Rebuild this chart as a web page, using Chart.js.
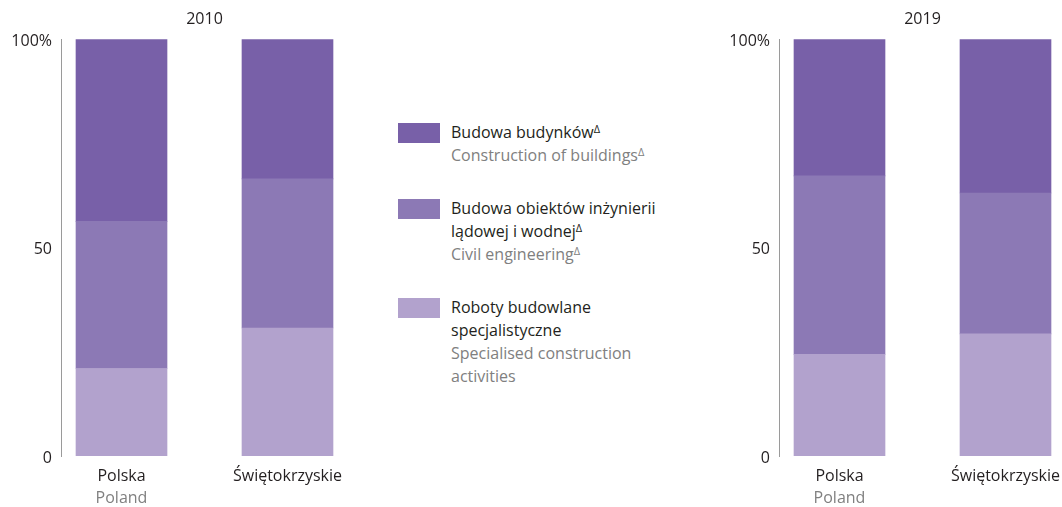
<!DOCTYPE html>
<html>
<head>
<meta charset="utf-8">
<script src="https://cdn.jsdelivr.net/npm/chart.js@4"></script>
<style>
  html, body { margin: 0; padding: 0; background: #fff; overflow: hidden; }
  body { width: 1062px; height: 507px; position: relative; font-family: "Open Sans", sans-serif; }
  .panel { position: absolute; top: 0; width: 360px; height: 507px; }
  .legend { position: absolute; left: 398px; top: 0; }
  .item { position: absolute; left: 0; width: 320px; }
  .swatch { position: absolute; left: 0; top: 0; width: 42px; height: 20px; }
  .txt { position: absolute; left: 53px; top: -2px; font-size: 16px; line-height: 23px; color: #231f20; white-space: nowrap; }
  .txt .en { color: #808080; }
  sup { font-size: 11px; vertical-align: 5px; line-height: 0; }
</style>
</head>
<body>
<div class="panel" style="left:0"><canvas id="c2010"></canvas></div>
<div class="panel" style="left:718px"><canvas id="c2019"></canvas></div>
<div class="legend" id="legend"></div>
<script>
const categories = ['Polska', 'Świętokrzyskie'];
const categoriesEn = ['Poland', ''];
const seriesPl = ['Budowa budynków', 'Budowa obiektów inżynierii lądowej i wodnej', 'Roboty budowlane specjalistyczne'];
const seriesEn = ['Construction of buildings', 'Civil engineering', 'Specialised construction activities'];
const colors = ['#7860a8', '#8c79b5', '#b2a2cd'];
// shares in %: buildings, civil engineering, specialised
const buildings2010 = [43.7, 33.5];
const civil2010 = [35.3, 35.8];
const special2010 = [21.0, 30.7];
const buildings2019 = [32.8, 36.9];
const civil2019 = [42.8, 33.8];
const special2019 = [24.4, 29.3];
const yTicks = [0, 50, 100];

const dark = '#231f20', grey = '#808080';
const font = { family: 'Open Sans', size: 16 };

function makeChart(id, year, series) {
  // series listed top to bottom, Chart.js stacks the first dataset at the bottom
  const datasets = series.map((vals, k) => ({
    label: seriesPl[k],
    data: vals.map((v, i) => ({ x: i, y: v })),
    backgroundColor: colors[k],
    barThickness: 91
  })).reverse();

  const xRange = { min: -0.3645, max: 1.3645 };
  return new Chart(document.getElementById(id), {
    type: 'bar',
    data: { datasets },
    options: {
      responsive: false,
      animation: false,
      devicePixelRatio: 1,
      layout: { padding: { top: 0, right: 12, bottom: 0, left: 0 } },
      plugins: {
        legend: { display: false },
        tooltip: { enabled: false },
        title: {
          display: true, text: year, fullSize: false, color: dark,
          font: { family: 'Open Sans', size: 16, weight: 'normal' },
          padding: { top: 10, bottom: 10 }
        }
      },
      scales: {
        x: {
          type: 'linear', stacked: true, offset: false, position: 'bottom', weight: 0,
          min: xRange.min, max: xRange.max,
          grid: { display: false, drawTicks: false },
          border: { display: false },
          afterFit: s => { s.height = 29; },
          ticks: {
            stepSize: 1, includeBounds: false, autoSkip: false, maxRotation: 0,
            padding: 11, color: dark, font,
            callback: v => categories[v] ?? ''
          }
        },
        x2: {
          type: 'linear', offset: false, position: 'bottom', weight: 1,
          min: xRange.min, max: xRange.max,
          grid: { display: false, drawTicks: false },
          border: { display: false },
          afterFit: s => { s.height = 22; },
          ticks: {
            stepSize: 1, includeBounds: false, autoSkip: false, maxRotation: 0,
            padding: 4, color: grey, font,
            callback: v => categoriesEn[v] ?? ''
          }
        },
        y: {
          stacked: true, min: 0, max: 100,
          grid: { display: false, drawTicks: false },
          border: { display: true, color: '#9a9a9a', width: 1 },
          afterFit: s => { s.width = 61; },
          afterBuildTicks: s => { s.ticks = yTicks.map(v => ({ value: v })); },
          ticks: {
            padding: 9, labelOffset: 2, color: dark, font,
            callback: v => v === 100 ? '100%' : String(v)
          }
        }
      }
    }
  });
}

['c2010', 'c2019'].forEach(id => {
  const cv = document.getElementById(id);
  cv.width = 360;
  cv.height = 507;
});
makeChart('c2010', '2010', [buildings2010, civil2010, special2010]);
makeChart('c2019', '2019', [buildings2019, civil2019, special2019]);

// legend with Polish and English lines
const legendTops = [123, 199, 298];
const legendPl = ['Budowa budynków<sup>Δ</sup>', 'Budowa obiektów inżynierii<br>lądowej i wodnej<sup>Δ</sup>', 'Roboty budowlane<br>specjalistyczne'];
const legendEn = ['Construction of buildings<sup>Δ</sup>', 'Civil engineering<sup>Δ</sup>', 'Specialised construction<br>activities'];
const legend = document.getElementById('legend');
legendTops.forEach((top, k) => {
  const item = document.createElement('div');
  item.className = 'item';
  item.style.top = top + 'px';
  item.innerHTML = '<div class="swatch" style="background:' + colors[k] + '"></div>' +
    '<div class="txt">' + legendPl[k] + '<br><span class="en">' + legendEn[k] + '</span></div>';
  legend.appendChild(item);
});
</script>
</body>
</html>
